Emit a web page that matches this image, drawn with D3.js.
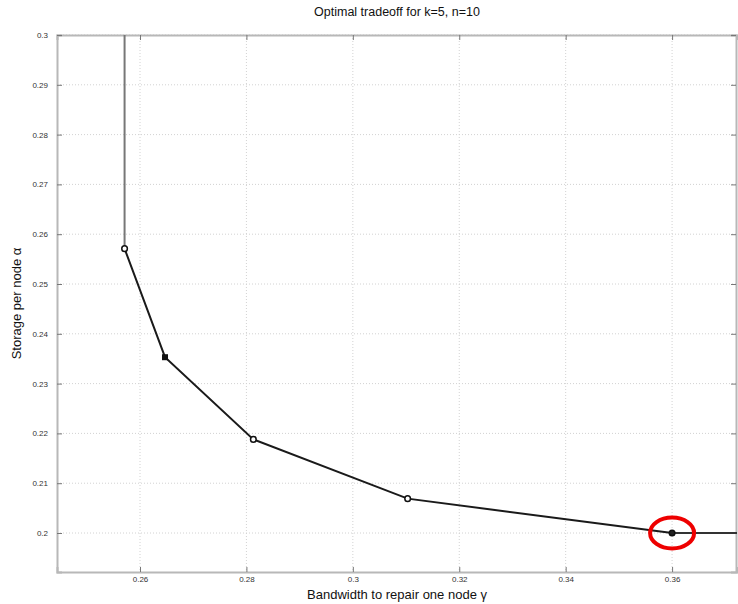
<!DOCTYPE html>
<html>
<head>
<meta charset="utf-8">
<script src="https://cdn.jsdelivr.net/npm/d3@7"></script>
<style>
  html, body { margin: 0; padding: 0; background: #fff; }
  svg { display: block; }
</style>
</head>
<body>
<script>
// ---- data ----
const gammaValues = [0.2571, 0.2647, 0.2813, 0.3103, 0.36];   // bandwidth γ
const alphaValues = [0.2571, 0.2353, 0.2188, 0.2069, 0.2];    // storage α
const markerShapes = ["circle", "square", "circle", "circle", "circle"];
const xTicks = [0.26, 0.28, 0.3, 0.32, 0.34, 0.36];
const yTicks = [0.2, 0.21, 0.22, 0.23, 0.24, 0.25, 0.26, 0.27, 0.28, 0.29, 0.3];
const xDomain = [0.2444, 0.3722];
const yDomain = [0.19217, 0.3];
const highlightIndex = 4;
const titleText = "Optimal tradeoff for k=5, n=10";
const xLabel = "Bandwidth to repair one node γ";
const yLabel = "Storage per node α";

const W = 738, H = 604;
const m = { left: 57, right: 1, top: 35, bottom: 32 };

const svg = d3.select("body").append("svg").attr("width", W).attr("height", H);

const x = d3.scaleLinear().domain(xDomain).range([m.left, W - m.right]);
const y = d3.scaleLinear().domain(yDomain).range([H - m.bottom, m.top]);

// grid
const grid = svg.append("g").attr("stroke", "#d2d2d2").attr("stroke-width", 1).attr("stroke-dasharray", "1,2");
grid.selectAll("line.gx").data(xTicks).join("line")
  .attr("x1", d => x(d)).attr("x2", d => x(d))
  .attr("y1", y.range()[1]).attr("y2", y.range()[0]);
grid.selectAll("line.gy").data(yTicks).join("line")
  .attr("y1", d => y(d)).attr("y2", d => y(d))
  .attr("x1", x.range()[0]).attr("x2", x.range()[1]);

// axes
const fontFam = "'Liberation Sans', Arial, sans-serif";
const xAxisB = svg.append("g").attr("transform", `translate(0,${y.range()[0]})`)
  .call(d3.axisBottom(x).tickValues(xTicks).tickSize(-5).tickPadding(4).tickFormat(d3.format("~g")));
const xAxisT = svg.append("g").attr("transform", `translate(0,${y.range()[1]})`)
  .call(d3.axisTop(x).tickValues(xTicks).tickSize(-5).tickFormat(""));
const yAxisL = svg.append("g").attr("transform", `translate(${x.range()[0]},0)`)
  .call(d3.axisLeft(y).tickValues(yTicks).tickSize(-5).tickPadding(9).tickFormat(d3.format("~g")));
const yAxisR = svg.append("g").attr("transform", `translate(${x.range()[1] - 1},0)`)
  .call(d3.axisRight(y).tickValues(yTicks).tickSize(-5).tickFormat(""));

[xAxisB, xAxisT, yAxisL, yAxisR].forEach(g => {
  g.select(".domain").attr("stroke", "#b8b8b8").attr("stroke-width", 2);
  g.selectAll(".tick line").attr("stroke", "#777");
  g.selectAll(".tick text").attr("font-family", fontFam).attr("font-size", 8).attr("fill", "#333");
});

// vertical extension above the MBR point
svg.append("line")
  .attr("x1", x(gammaValues[0])).attr("x2", x(gammaValues[0]))
  .attr("y1", y(alphaValues[0])).attr("y2", y.range()[1])
  .attr("stroke", "#777").attr("stroke-width", 2);

// horizontal extension to the right of the MSR point
const last = gammaValues.length - 1;
svg.append("line")
  .attr("x1", x(gammaValues[last])).attr("x2", x.range()[1])
  .attr("y1", y(alphaValues[last])).attr("y2", y(alphaValues[last]))
  .attr("stroke", "#333").attr("stroke-width", 2);

// tradeoff curve
const pts = gammaValues.map((g, i) => [g, alphaValues[i]]);
svg.append("path")
  .datum(pts)
  .attr("fill", "none").attr("stroke", "#1a1a1a").attr("stroke-width", 2)
  .attr("d", d3.line().x(d => x(d[0])).y(d => y(d[1])));

// markers
pts.forEach((p, i) => {
  if (markerShapes[i] === "square") {
    svg.append("rect").attr("x", x(p[0]) - 3).attr("y", y(p[1]) - 3)
      .attr("width", 6).attr("height", 6).attr("fill", "#111");
  } else {
    svg.append("circle").attr("cx", x(p[0])).attr("cy", y(p[1])).attr("r", 2.8)
      .attr("fill", i === highlightIndex ? "#222" : "#fff").attr("stroke", "#111").attr("stroke-width", 1.5);
  }
});

// red highlight ellipse
svg.append("ellipse")
  .attr("cx", x(gammaValues[highlightIndex])).attr("cy", y(alphaValues[highlightIndex]))
  .attr("rx", 22).attr("ry", 15.5)
  .attr("fill", "none").attr("stroke", "#ee0000").attr("stroke-width", 4);

// texts
svg.append("text").attr("x", (x.range()[0] + x.range()[1]) / 2).attr("y", 16)
  .attr("text-anchor", "middle").attr("font-family", fontFam).attr("font-size", 12.5).attr("fill", "#111")
  .text(titleText);
svg.append("text").attr("x", (x.range()[0] + x.range()[1]) / 2).attr("y", 599)
  .attr("text-anchor", "middle").attr("font-family", fontFam).attr("font-size", 13).attr("fill", "#111")
  .text(xLabel);
svg.append("text").attr("transform", `translate(21,${(y.range()[0] + y.range()[1]) / 2}) rotate(-90)`)
  .attr("text-anchor", "middle").attr("font-family", fontFam).attr("font-size", 13).attr("fill", "#111")
  .text(yLabel);
</script>
</body>
</html>
